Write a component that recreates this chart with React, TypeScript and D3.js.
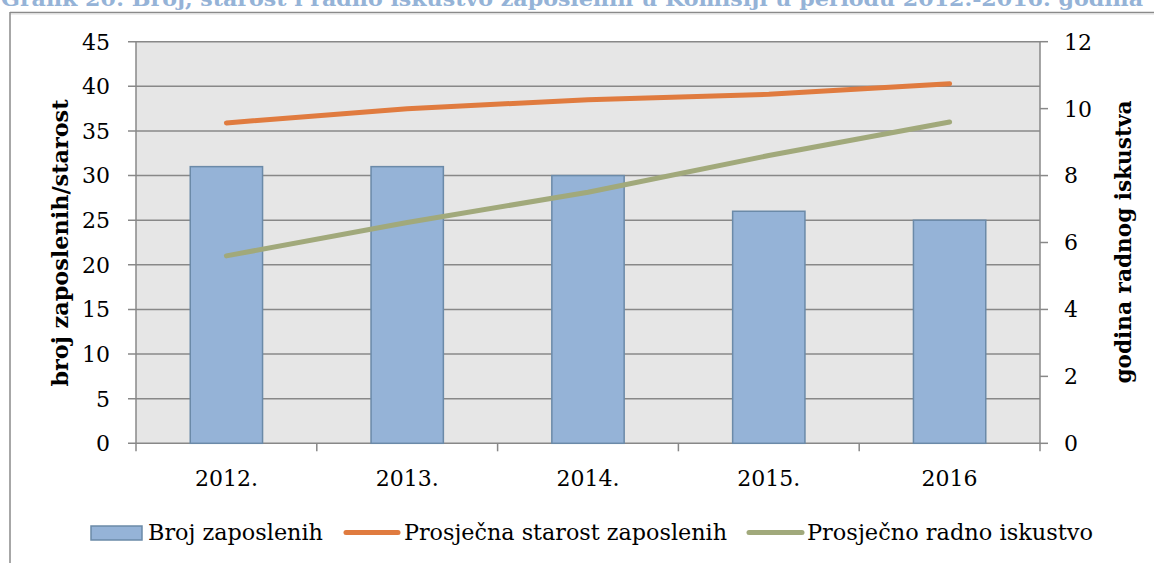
import React from 'react'
import * as d3 from 'd3'

// chart values
const YEARS = ['2012.', '2013.', '2014.', '2015.', '2016']
const EMPLOYEES = [31, 31, 30, 26, 25]
const AVG_AGE = [35.9, 37.5, 38.5, 39.1, 40.3]
const AVG_EXPERIENCE = [5.6, 6.6, 7.5, 8.6, 9.6]
const LEFT_TICKS = [0, 5, 10, 15, 20, 25, 30, 35, 40, 45]
const RIGHT_TICKS = [0, 2, 4, 6, 8, 10, 12]

const TITLE = 'Grafik 20: Broj, starost i radno iskustvo zaposlenih u Komisiji u periodu 2012.-2016. godina'
const LEGEND = ['Broj zaposlenih', 'Prosječna starost zaposlenih', 'Prosječno radno iskustvo']

const W = 1154
const H = 563
const plot = { left: 136, right: 1040, top: 41.7, bottom: 443.3 }

const FONT = '"DejaVu Serif", serif'
const BAR_FILL = '#95b3d7'
const BAR_STROKE = '#6b8aa8'
const ORANGE = '#e07b3f'
const GREEN = '#a1a97b'
const GRID = '#888888'

export default function App() {
  const x = d3.scaleBand<string>()
    .domain(YEARS)
    .range([plot.left, plot.right])
    .paddingInner(0.6)
    .paddingOuter(0.3)

  const yLeft = d3.scaleLinear().domain([0, 45]).range([plot.bottom, plot.top])
  const yRight = d3.scaleLinear().domain([0, 12]).range([plot.bottom, plot.top])

  const cx = (i: number) => (x(YEARS[i]) ?? 0) + x.bandwidth() / 2

  const ageLine = d3.line<number>().x((_, i) => cx(i)).y(d => yLeft(d))
  const expLine = d3.line<number>().x((_, i) => cx(i)).y(d => yRight(d))

  // category boundaries for x ticks
  const step = x.step()
  const boundaries = d3.range(YEARS.length + 1).map(i => plot.left + i * step)

  return (
    <svg width={W} height={H} style={{ position: 'absolute', left: 0, top: 0, background: '#fff' }}>
      {/* caption, cut off at the top as in the source */}
      <text x={1} y={6} fill="#95b3d7" fontFamily={FONT} fontWeight="bold" fontSize={20}
        textLength={1142} lengthAdjust="spacingAndGlyphs">{TITLE}</text>

      {/* outer frame */}
      <line x1={10} x2={W} y1={12.5} y2={12.5} stroke="#8a8a8a" strokeWidth={1.5} />
      <line x1={10} x2={W} y1={14} y2={14} stroke="#dcdcdc" strokeWidth={1} />
      <line x1={10} x2={10} y1={12} y2={H} stroke="#8a8a8a" strokeWidth={1.5} />

      {/* plot background */}
      <rect x={plot.left} y={plot.top} width={plot.right - plot.left} height={plot.bottom - plot.top} fill="#e6e6e6" />

      {/* gridlines + left ticks */}
      {LEFT_TICKS.map(t => (
        <g key={'l' + t}>
          <line x1={plot.left - 8} x2={plot.right} y1={yLeft(t)} y2={yLeft(t)} stroke={GRID} strokeWidth={1.5} />
          <text x={110} y={yLeft(t)} dy="0.36em" textAnchor="end" fontFamily={FONT} fontSize={22} fill="#000">{t}</text>
        </g>
      ))}

      {/* right ticks */}
      {RIGHT_TICKS.map(t => (
        <g key={'r' + t}>
          <line x1={plot.right} x2={plot.right + 8} y1={yRight(t)} y2={yRight(t)} stroke={GRID} strokeWidth={1.5} />
          <text x={1064} y={yRight(t)} dy="0.36em" textAnchor="start" fontFamily={FONT} fontSize={22} fill="#000">{t}</text>
        </g>
      ))}

      {/* axis lines */}
      <line x1={plot.left} x2={plot.left} y1={plot.top} y2={plot.bottom} stroke={GRID} strokeWidth={1.5} />
      <line x1={plot.right} x2={plot.right} y1={plot.top} y2={plot.bottom} stroke={GRID} strokeWidth={1.5} />

      {/* bars */}
      {EMPLOYEES.map((v, i) => (
        <rect key={YEARS[i]} x={x(YEARS[i])} y={yLeft(v)} width={x.bandwidth()} height={yLeft(0) - yLeft(v)}
          fill={BAR_FILL} stroke={BAR_STROKE} strokeWidth={1.5} />
      ))}

      {/* x axis ticks and labels */}
      {boundaries.map((b, i) => (
        <line key={'xt' + i} x1={b} x2={b} y1={plot.bottom} y2={plot.bottom + 8} stroke={GRID} strokeWidth={1.5} />
      ))}
      {YEARS.map((yr, i) => (
        <text key={'xl' + yr} x={cx(i)} y={486} textAnchor="middle" fontFamily={FONT} fontSize={22} fill="#000">{yr}</text>
      ))}

      {/* lines */}
      <path d={ageLine(AVG_AGE) ?? ''} fill="none" stroke={ORANGE} strokeWidth={5} strokeLinecap="round" strokeLinejoin="round" />
      <path d={expLine(AVG_EXPERIENCE) ?? ''} fill="none" stroke={GREEN} strokeWidth={5} strokeLinecap="round" strokeLinejoin="round" />

      {/* axis titles */}
      <text transform="translate(68,243) rotate(-90)" textAnchor="middle" fontFamily={FONT} fontWeight="bold" fontSize={23}
        textLength={287} lengthAdjust="spacingAndGlyphs" fill="#000">broj zaposlenih/starost</text>
      <text transform="translate(1131,242) rotate(-90)" textAnchor="middle" fontFamily={FONT} fontWeight="bold" fontSize={23}
        textLength={283} lengthAdjust="spacingAndGlyphs" fill="#000">godina radnog iskustva</text>

      {/* legend */}
      <rect x={91} y={526} width={51} height={14} fill={BAR_FILL} stroke={BAR_STROKE} strokeWidth={1.5} />
      <text x={148} y={540} fontFamily={FONT} fontSize={22} textLength={175} lengthAdjust="spacingAndGlyphs" fill="#000">{LEGEND[0]}</text>
      <line x1={346} x2={398} y1={532.5} y2={532.5} stroke={ORANGE} strokeWidth={5} strokeLinecap="round" />
      <text x={404} y={540} fontFamily={FONT} fontSize={22} textLength={323} lengthAdjust="spacingAndGlyphs" fill="#000">{LEGEND[1]}</text>
      <line x1={749} x2={802} y1={532.5} y2={532.5} stroke={GREEN} strokeWidth={5} strokeLinecap="round" />
      <text x={807} y={540} fontFamily={FONT} fontSize={22} textLength={286} lengthAdjust="spacingAndGlyphs" fill="#000">{LEGEND[2]}</text>
    </svg>
  )
}
